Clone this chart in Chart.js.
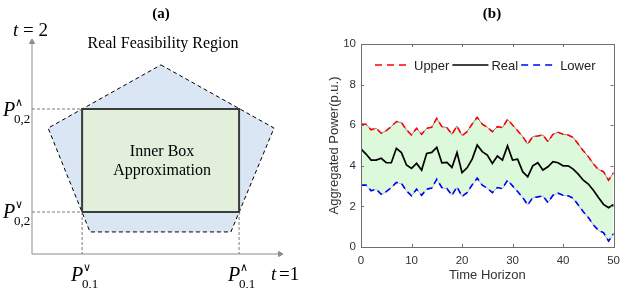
<!DOCTYPE html>
<html><head><meta charset="utf-8">
<script src="https://cdn.jsdelivr.net/npm/chart.js@4.4.0/dist/chart.umd.min.js"></script>
<style>
html,body{margin:0;padding:0;background:#fff;width:627px;height:288px;overflow:hidden}
#wa{position:absolute;left:0;top:0;width:310px;height:288px}
#wb{position:absolute;left:320px;top:0;width:307px;height:288px}
</style></head><body>
<div id="wa"><canvas id="ca" width="310" height="288"></canvas></div>
<div id="wb"><canvas id="cb" width="307" height="288"></canvas></div>
<script>
// ---------- Panel (b) data ----------
const timeSteps = [0,1,2,3,4,5,6,7,8,9,10,11,12,13,14,15,16,17,18,19,20,21,22,23,24,25,26,27,28,29,30,31,32,33,34,35,36,37,38,39,40,41,42,43,44,45,46,47,48,49,50];
const upperPower = [6.05,6.05,5.77,5.85,5.6,5.73,5.93,6.18,6.13,5.77,5.52,5.85,5.55,5.85,5.9,6.34,5.93,5.88,5.55,5.96,5.49,5.68,6.06,6.39,6.05,5.9,5.68,5.93,5.88,6.29,6.01,5.73,5.44,5.07,5.44,5.47,5.52,5.19,5.55,5.65,5.55,5.52,5.4,5.07,4.74,4.45,4.09,3.82,3.71,3.29,3.66];
const realPower = [4.83,4.58,4.28,4.28,4.37,4.15,4.15,4.86,4.65,4.04,3.87,4.12,3.79,4.61,4.66,4.91,4.15,4.17,3.92,4.65,3.66,3.9,4.33,5.02,4.7,4.53,4.12,4.48,4.28,4.98,4.28,4.33,3.71,3.46,4.0,4.15,3.79,3.95,4.2,4.15,4.0,4.0,3.84,3.59,3.29,3.1,2.8,2.44,2.1,1.93,2.1];
const lowerPower = [3.05,3.05,2.77,2.85,2.6,2.73,2.93,3.18,3.13,2.77,2.52,2.85,2.55,2.85,2.9,3.34,2.93,2.88,2.55,2.96,2.49,2.68,3.06,3.39,3.05,2.9,2.68,2.93,2.88,3.29,3.01,2.73,2.44,2.07,2.44,2.47,2.52,2.19,2.55,2.65,2.55,2.52,2.4,2.07,1.74,1.45,1.09,0.82,0.71,0.29,0.66];
const xTickValues = [0,10,20,30,40,50];
const yTickValues = [0,2,4,6,8,10];
const legendLabels = ['Upper','Real','Lower'];

// ---------- Panel (a) diagram data (t=1, t=2 axis units) ----------
const regionT1 = [52.0, 97.6, 80.2, 23.4, 6.5, 52.0];
const regionT2 = [89.2, 59.4, 10.4, 10.4, 59.4, 89.2];
const boxT1 = [20.2, 83.5];   // P^v_{0,1}, P^^_{0,1}
const boxT2 = [19.8, 68.4];   // P^v_{0,2}, P^^_{0,2}
const axisMax = [100, 100];

const pts = (xs, ys) => xs.map((x, i) => ({x: x, y: ys[i]}));

const SERIF = '"Liberation Serif","DejaVu Serif",serif';
const SANS = '"Liberation Sans",Arial,sans-serif';

// ---------- Panel (a) ----------
const boxPts = pts([boxT1[0], boxT1[1], boxT1[1], boxT1[0], boxT1[0]], [boxT2[0], boxT2[0], boxT2[1], boxT2[1], boxT2[0]]);
const guideStyle = {borderColor: '#7a7a7a', borderWidth: 1, borderDash: [3, 2], fill: false};

const diagramText = {
  id: 'diagramText',
  afterDraw(chart) {
    const ctx = chart.ctx, xs = chart.scales.x, ys = chart.scales.y;
    const px = v => xs.getPixelForValue(v), py = v => ys.getPixelForValue(v);
    ctx.save();
    ctx.fillStyle = '#000';
    ctx.font = 'bold 15px ' + SERIF; ctx.textAlign = 'center'; ctx.textBaseline = 'middle';
    ctx.fillText('(a)', 161, 14);
    ctx.textBaseline = 'alphabetic';
    ctx.font = '16px ' + SERIF;
    ctx.fillText('Real Feasibility Region', 163, 48);
    const cx = (px(boxT1[0]) + px(boxT1[1])) / 2 + 1.5;
    const cy = (py(boxT2[0]) + py(boxT2[1])) / 2;
    ctx.fillText('Inner Box', cx, cy - 5);
    ctx.fillText('Approximation', cx, cy + 14);
    ctx.textAlign = 'left';
    function drawP(x0, yb, sup, sub) {
      ctx.font = 'italic 20px ' + SERIF;
      ctx.fillText('P', x0, yb);
      ctx.font = '11px ' + SERIF;
      ctx.fillText(sup, x0 + 12, yb - 10);
      ctx.font = '13px ' + SERIF;
      ctx.fillText(sub, x0 + 11, yb + 7);
    }
    const ax = px(0), ay = py(0);
    drawP(ax - 29, py(boxT2[1]) + 7, '\u2227', '0,2');
    drawP(ax - 29, py(boxT2[0]) + 6, '\u2228', '0,2');
    drawP(px(boxT1[0]) - 11, ay + 27, '\u2228', '0,1');
    drawP(px(boxT1[1]) - 11, ay + 27, '\u2227', '0,1');
    ctx.font = 'italic 19px ' + SERIF;
    ctx.fillText('t', 271, 280);
    ctx.fillText('t', 13, 36);
    ctx.font = '19px ' + SERIF;
    ctx.fillText('=1', 279, 280);
    ctx.fillText('= 2', 23, 36);
    ctx.restore();
  }
};

new Chart(document.getElementById('ca'), {
  type: 'scatter',
  data: {
    datasets: [
      {data: boxPts, showLine: true, fill: 'shape', backgroundColor: '#e2efda', borderColor: '#3c3c3c', borderWidth: 2},
      {data: pts(regionT1, regionT2), showLine: true, fill: 'shape', backgroundColor: '#dae6f4', borderColor: '#000', borderWidth: 1, borderDash: [4, 3]},
      Object.assign({data: pts([0, boxT1[0]], [boxT2[1], boxT2[1]]), showLine: true}, guideStyle),
      Object.assign({data: pts([0, boxT1[0]], [boxT2[0], boxT2[0]]), showLine: true}, guideStyle),
      Object.assign({data: pts([boxT1[0], boxT1[0]], [boxT2[0], 0]), showLine: true}, guideStyle),
      Object.assign({data: pts([boxT1[1], boxT1[1]], [boxT2[0], 0]), showLine: true}, guideStyle),
      {data: pts([0, 0], [0, axisMax[1]]), showLine: true, borderColor: '#8c8c8c', borderWidth: 1, pointRadius: [0, 3], pointStyle: 'triangle', pointRotation: 0, pointBackgroundColor: '#8c8c8c', pointBorderColor: '#8c8c8c'},
      {data: pts([0, axisMax[0]], [0, 0]), showLine: true, borderColor: '#8c8c8c', borderWidth: 1, pointRadius: [0, 3], pointStyle: 'triangle', pointRotation: 90, pointBackgroundColor: '#8c8c8c', pointBorderColor: '#8c8c8c'}
    ]
  },
  options: {
    responsive: false, animation: false,
    layout: {padding: {left: 32, right: 30, top: 42, bottom: 34}},
    elements: {point: {radius: 0, hoverRadius: 0}, line: {tension: 0}},
    datasets: {scatter: {clip: false}},
    scales: {x: {type: 'linear', min: 0, max: 100, display: false}, y: {type: 'linear', min: 0, max: 100, display: false}},
    plugins: {legend: {display: false}, tooltip: {enabled: false}}
  },
  plugins: [diagramText]
});

// ---------- Panel (b) ----------
const AXIS_COLOR = '#6e6e6e';
const boxAxes = {
  id: 'boxAxes',
  afterDraw(chart) {
    const ctx = chart.ctx, a = chart.chartArea, xs = chart.scales.x, ys = chart.scales.y;
    ctx.save();
    ctx.strokeStyle = AXIS_COLOR; ctx.lineWidth = 1;
    ctx.strokeRect(Math.round(a.left) + 0.5, Math.round(a.top) + 0.5, Math.round(a.right - a.left), Math.round(a.bottom - a.top));
    ctx.beginPath();
    xTickValues.forEach(v => {
      const x = Math.round(xs.getPixelForValue(v)) + 0.5;
      ctx.moveTo(x, a.bottom); ctx.lineTo(x, a.bottom - 3);
      ctx.moveTo(x, a.top); ctx.lineTo(x, a.top + 3);
    });
    yTickValues.forEach(v => {
      const y = Math.round(ys.getPixelForValue(v)) + 0.5;
      ctx.moveTo(a.left, y); ctx.lineTo(a.left + 3, y);
      ctx.moveTo(a.right, y); ctx.lineTo(a.right - 3, y);
    });
    ctx.stroke();
    ctx.fillStyle = '#000';
    ctx.font = 'bold 15px ' + SERIF; ctx.textAlign = 'center'; ctx.textBaseline = 'middle';
    ctx.fillText('(b)', 172, 14);
    const styles = [
      {c: '#ff0000', d: [7, 5]},
      {c: '#000000', d: []},
      {c: '#0000ff', d: [7, 5]}
    ];
    ctx.font = '13px ' + SANS; ctx.textAlign = 'left'; ctx.textBaseline = 'middle';
    let x = 55; const y = 65;
    legendLabels.forEach((lab, i) => {
      ctx.strokeStyle = styles[i].c; ctx.lineWidth = 1.5; ctx.setLineDash(styles[i].d);
      ctx.beginPath(); ctx.moveTo(x, y); ctx.lineTo(x + 36, y); ctx.stroke();
      ctx.setLineDash([]);
      ctx.fillStyle = '#222';
      ctx.fillText(lab, x + 39, y + 1);
      x += 39 + ctx.measureText(lab).width + 3;
    });
    ctx.restore();
  }
};

const series = arr => timeSteps.map((t, i) => ({x: t, y: arr[i]}));
new Chart(document.getElementById('cb'), {
  type: 'line',
  data: {
    datasets: [
      {label: legendLabels[0], data: series(upperPower), borderColor: '#ff0000', borderWidth: 1.6, borderDash: [6, 4], fill: false},
      {label: legendLabels[1], data: series(realPower), borderColor: '#000000', borderWidth: 1.7, fill: false},
      {label: legendLabels[2], data: series(lowerPower), borderColor: '#0000ff', borderWidth: 1.6, borderDash: [6, 4], fill: false},
      {label: 'bandTop', data: series(upperPower), borderColor: '#8a8a8a', borderWidth: 1, fill: '+1', backgroundColor: '#dcf9dc'},
      {label: 'bandBottom', data: series(lowerPower), borderColor: '#8a8a8a', borderWidth: 1, fill: false}
    ]
  },
  options: {
    responsive: false, animation: false,
    layout: {padding: {left: 0, right: 8, top: 44, bottom: 0}},
    elements: {point: {radius: 0, hoverRadius: 0}, line: {tension: 0}},
    scales: {
      x: {
        type: 'linear', min: 0, max: 50,
        afterBuildTicks: s => { s.ticks = xTickValues.map(v => ({value: v})); },
        afterFit: s => { s.height = 41; },
        grid: {display: false, drawTicks: false}, border: {display: false},
        ticks: {padding: 7, color: '#333', font: {family: SANS, size: 11.5}},
        title: {display: true, text: 'Time Horizon', color: '#333', font: {family: SANS, size: 13}, padding: {top: 2, bottom: 5}}
      },
      y: {
        type: 'linear', min: 0, max: 10,
        afterBuildTicks: s => { s.ticks = yTickValues.map(v => ({value: v})); },
        afterFit: s => { s.width = 41; },
        grid: {display: false, drawTicks: false}, border: {display: false},
        ticks: {padding: 5, color: '#333', font: {family: SANS, size: 11.5}},
        title: {display: true, text: 'Aggregated Power(p.u.)', color: '#333', font: {family: SANS, size: 13}, padding: {top: 7, bottom: 0}}
      }
    },
    plugins: {legend: {display: false}, tooltip: {enabled: false}}
  },
  plugins: [boxAxes]
});
</script>
</body></html>
